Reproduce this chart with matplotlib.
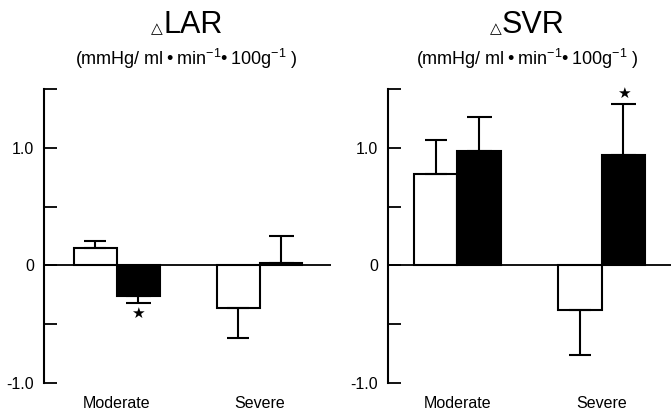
import matplotlib
matplotlib.use("Agg")
import matplotlib.pyplot as plt
import numpy as np

plt.rcParams['font.family'] = ['Liberation Sans', 'DejaVu Sans']
plt.rcParams['mathtext.fontset'] = 'custom'
plt.rcParams['mathtext.rm'] = 'Liberation Sans'
plt.rcParams['mathtext.it'] = 'Liberation Sans'

# data
groups = ["Moderate", "Severe"]
lar_open = [0.15, -0.36]
lar_open_err = [0.06, 0.26]
lar_filled = [-0.26, 0.02]
lar_filled_err = [0.06, 0.23]
svr_open = [0.78, -0.38]
svr_open_err = [0.29, 0.38]
svr_filled = [0.97, 0.94]
svr_filled_err = [0.29, 0.43]

titles = ["LAR", "SVR"]
units = "(mmHg/ ml\u2009\u2022\u2009min$^{-1}$\u2022\u2009100g$^{-1}$ )"

fig = plt.figure(figsize=(6.71, 4.11), dpi=100)
W, H = 671, 411


def one_sided(vals, errs):
    # error bars only point away from zero
    lo = [e if v < 0 else 0 for v, e in zip(vals, errs)]
    hi = [0 if v < 0 else e for v, e in zip(vals, errs)]
    return [lo, hi]


def panel(ax, opn, opn_err, fil, fil_err, xlim):
    x = np.arange(len(groups))
    w = 0.3
    ax.bar(x - w / 2, opn, w, color="white", edgecolor="black", linewidth=1.5, zorder=2)
    ax.bar(x + w / 2, fil, w, color="black", edgecolor="black", linewidth=1.5, zorder=2)
    ax.errorbar(x - w / 2, opn, yerr=one_sided(opn, opn_err), fmt="none",
                ecolor="black", elinewidth=1.5, capsize=8, capthick=1.5, zorder=3)
    ax.errorbar(x + w / 2, fil, yerr=one_sided(fil, fil_err), fmt="none",
                ecolor="black", elinewidth=1.5, capsize=9, capthick=1.5, zorder=3)
    ax.axhline(0, color="black", lw=1.3, zorder=4)
    ax.set_xlim(*xlim)
    ax.set_ylim(-1.0, 1.5)
    ax.set_yticks([-1.0, -0.5, 0, 0.5, 1.0, 1.5])
    ax.set_yticklabels(["-1.0", "", "0", "", "1.0", ""])
    ax.tick_params(axis="y", direction="in", length=9, width=1.3, pad=7, labelsize=11.5)
    ax.set_xticks(x)
    ax.set_xticklabels(groups, fontsize=11.5)
    ax.tick_params(axis="x", length=0, pad=9)
    for s in ["top", "right", "bottom"]:
        ax.spines[s].set_visible(False)
    ax.spines["left"].set_linewidth(1.5)
    return x, w


ax1 = fig.add_axes([44 / W, 1 - 383 / H, (331 - 44) / W, (383 - 89) / H])
x, w = panel(ax1, lar_open, lar_open_err, lar_filled, lar_filled_err, (-0.51, 1.5))
ax1.text(x[0] + w / 2, lar_filled[0] - lar_filled_err[0] - 0.09, "\u2605",
         ha="center", va="center", fontsize=11, family=["DejaVu Sans"])

ax2 = fig.add_axes([388 / W, 1 - 383 / H, (671 - 388) / W, (383 - 89) / H])
x, w = panel(ax2, svr_open, svr_open_err, svr_filled, svr_filled_err, (-0.48, 1.48))
ax2.text(x[1] + w / 2, svr_filled[1] + svr_filled_err[1] + 0.09, "\u2605",
         ha="center", va="center", fontsize=11, family=["DejaVu Sans"])

# titles
for xs, name, cx in [(163, titles[0], 186), (502, titles[1], 527)]:
    fig.text(xs / W, 1 - 33 / H, "\u25b3", ha="right", va="baseline", fontsize=11,
             family=["DejaVu Sans"])
    fig.text(xs / W, 1 - 33 / H, name, ha="left", va="baseline", fontsize=22)
    fig.text(cx / W, 1 - 65 / H, units, ha="center", va="baseline", fontsize=13)

plt.savefig("out.png", dpi=100)
